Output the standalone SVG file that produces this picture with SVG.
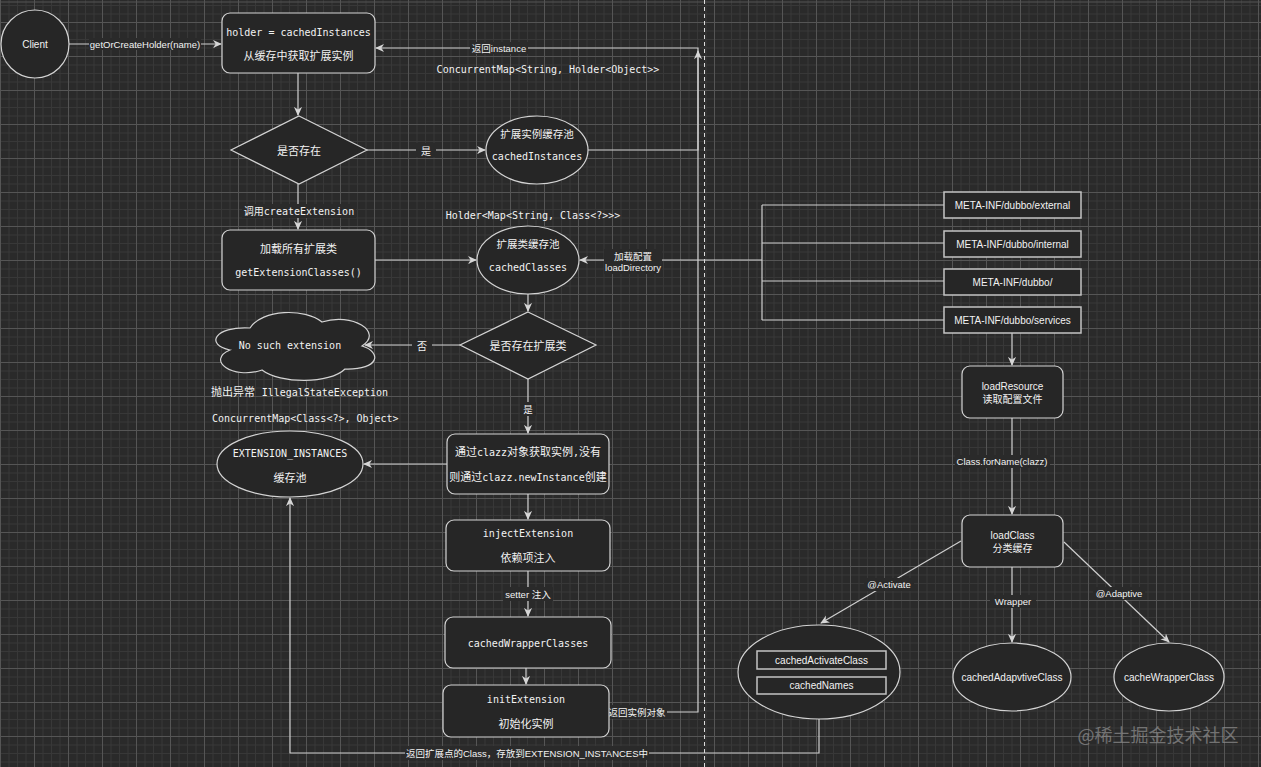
<svg xmlns="http://www.w3.org/2000/svg" width="1261" height="767" viewBox="0 0 1261 767">
<defs>
<pattern id="grid" width="34" height="34" patternUnits="userSpaceOnUse" x="0" y="22">
<rect width="34" height="34" fill="#2a2a2a"/>
<path d="M9 0V34M17.5 0V34M26 0V34M0 9H34M0 17.5H34M0 26H34" stroke="#383838" stroke-width="1"/>
<path d="M0.5 0V34M0 0.5H34" stroke="#555555" stroke-width="1"/>
</pattern>
<marker id="arr" viewBox="0 0 10 10" refX="9" refY="5" markerWidth="9" markerHeight="9" markerUnits="userSpaceOnUse" orient="auto">
<path d="M0,0.5 L10,5 L0,9.5 L3,5 Z" fill="#d6d6d6"/>
</marker>
<style>
.nd{fill:#262626;stroke:#d4d4d4;stroke-width:1.2}
.sq{fill:#262626;stroke:#c4c4c4;stroke-width:1.5}
.e{fill:none;stroke:#cfcfcf;stroke-width:1.2}
.ea{fill:none;stroke:#cfcfcf;stroke-width:1.2;marker-end:url(#arr)}
.bg{fill:#2a2a2a}
text{fill:#f2f2f2;dominant-baseline:central;text-anchor:middle}
.m{font-family:"DejaVu Sans Mono","Noto Sans CJK SC",monospace;font-size:10px}
.c{font-family:"Noto Sans CJK SC",sans-serif;font-size:11px}
.s{font-family:"Liberation Sans","Noto Sans CJK SC",sans-serif;font-size:10px}
.l{font-family:"Liberation Sans","Noto Sans CJK SC",sans-serif;font-size:9.5px}
.st{text-anchor:start}
</style>
</defs>
<rect width="1261" height="767" fill="url(#grid)"/>
<line x1="0" y1="2" x2="1261" y2="2" stroke="#555555"/>
<line x1="704.5" y1="0" x2="704.5" y2="767" stroke="#dcdcdc" stroke-width="1" stroke-dasharray="4 3"/>

<g id="connectors">
<line class="ea" x1="69" y1="44" x2="221" y2="44"/>
<line class="ea" x1="298" y1="73" x2="298" y2="115"/>
<line class="ea" x1="367" y1="150" x2="485" y2="150"/>
<path class="ea" d="M588,150 H698 V48 H376"/>
<path class="ea" d="M609,712 H698 V51"/>
<line class="ea" x1="298" y1="184" x2="298" y2="229"/>
<line class="ea" x1="375" y1="260" x2="476" y2="260"/>
<path class="e" d="M762,205 V320 M762,205 H944 M762,243 H944 M762,281 H944 M762,320 H944"/>
<line class="ea" x1="762" y1="260" x2="580" y2="260"/>
<line class="ea" x1="1012" y1="333" x2="1012" y2="365"/>
<line class="ea" x1="1012" y1="418" x2="1012" y2="514"/>
<line class="ea" x1="961" y1="541" x2="821" y2="623"/>
<line class="ea" x1="1012" y1="567" x2="1012" y2="642"/>
<line class="ea" x1="1064" y1="542" x2="1169" y2="642"/>
<path class="ea" d="M819,719 V753 H290 V498"/>
<line class="ea" x1="528" y1="294" x2="528" y2="311"/>
<line class="ea" x1="460" y1="345" x2="365" y2="345"/>
<line class="ea" x1="528" y1="379" x2="528" y2="433"/>
<line class="ea" x1="447" y1="464" x2="364" y2="464"/>
<line class="ea" x1="528" y1="494" x2="528" y2="519"/>
<line class="ea" x1="528" y1="571" x2="528" y2="616"/>
<line class="ea" x1="526" y1="668" x2="526" y2="684"/>
<g id="edge-labels">
<rect class="bg" x="89" y="38" width="112" height="12"/>
<text class="l" x="145" y="44">getOrCreateHolder(name)</text>
<rect class="bg" x="416" y="143" width="20" height="14"/>
<text class="c" x="426" y="150" style="font-size:10px">是</text>
<rect class="bg" x="470" y="42" width="58" height="12"/>
<text class="l" x="499" y="48">返回instance</text>
<rect class="bg" x="609" y="705" width="58" height="14"/>
<text class="l" x="637" y="712">返回实例对象</text>
<rect class="bg" x="242" y="204" width="114" height="14"/>
<text class="m" x="299" y="211"><tspan style="font-size:10px">调用</tspan>createExtension</text>
<rect class="bg" x="604" y="249" width="58" height="25"/>
<text class="l" x="633" y="256">加载配置</text>
<text class="l" x="633" y="267">loadDirectory</text>
<rect class="bg" x="955" y="455" width="95" height="13"/>
<text class="l" x="1002" y="461">Class.forName(clazz)</text>
<rect class="bg" x="864" y="578" width="50" height="13"/>
<text class="l" x="889" y="584">@Activate</text>
<rect class="bg" x="990" y="595" width="46" height="13"/>
<text class="l" x="1013" y="601">Wrapper</text>
<rect class="bg" x="1093" y="587" width="52" height="13"/>
<text class="l" x="1119" y="593">@Adaptive</text>
<rect class="bg" x="405" y="746" width="244" height="14"/>
<text class="l" x="527" y="753">返回扩展点的Class，存放到EXTENSION_INSTANCES中</text>
<rect class="bg" x="412" y="338" width="20" height="14"/>
<text class="c" x="422" y="345" style="font-size:10px">否</text>
<rect class="bg" x="520" y="402" width="16" height="14"/>
<text class="c" x="528" y="409" style="font-size:9.5px">是</text>
<rect class="bg" x="503" y="587" width="50" height="14"/>
<text class="l" x="528" y="594">setter 注入</text>
</g>
</g>

<g id="client">
<circle class="nd" cx="35" cy="44" r="34"/>
<text class="s" x="35" y="44">Client</text>
</g>
<g id="holder">
<rect class="nd" x="222" y="13" width="153" height="60" rx="8"/>
<text class="m" x="298.5" y="32">holder = cachedInstances</text>
<text class="c" x="298.5" y="55">从缓存中获取扩展实例</text>
</g>
<g id="exists">
<polygon class="nd" points="299,116 367,150 299,184 231,150"/>
<text class="c" x="299" y="150">是否存在</text>
</g>
<g id="cachedInstances">
<ellipse class="nd" cx="537" cy="150" rx="51" ry="34"/>
<text class="c" x="537" y="133" style="font-size:10.5px">扩展实例缓存池</text>
<text class="m" x="537" y="156">cachedInstances</text>
</g>
<g id="note-instances">
<text class="m" x="548" y="69">ConcurrentMap&lt;String, Holder&lt;Object&gt;&gt;</text>
</g>
<g id="loadAll">
<rect class="nd" x="222" y="230" width="153" height="60" rx="8"/>
<text class="c" x="298.5" y="248">加载所有扩展类</text>
<text class="m" x="298.5" y="272">getExtensionClasses()</text>
</g>
<g id="cachedClasses">
<ellipse class="nd" cx="528" cy="260" rx="51" ry="34"/>
<text class="c" x="528" y="243" style="font-size:10.5px">扩展类缓存池</text>
<text class="m" x="528" y="267">cachedClasses</text>
</g>
<g id="note-classes">
<text class="m" x="533" y="215">Holder&lt;Map&lt;String, Class&lt;?&gt;&gt;&gt;</text>
</g>
<g id="meta-external">
<rect class="sq" x="944" y="192" width="137" height="26"/>
<text class="s" x="1012.5" y="205">META-INF/dubbo/external</text>
</g>
<g id="meta-internal">
<rect class="sq" x="944" y="231" width="137" height="26"/>
<text class="s" x="1012.5" y="244">META-INF/dubbo/internal</text>
</g>
<g id="meta-dubbo">
<rect class="sq" x="944" y="269" width="137" height="26"/>
<text class="s" x="1012.5" y="282">META-INF/dubbo/</text>
</g>
<g id="meta-services">
<rect class="sq" x="944" y="307" width="137" height="26"/>
<text class="s" x="1012.5" y="320">META-INF/dubbo/services</text>
</g>
<g id="loadResource">
<rect class="nd" x="962" y="366" width="101" height="52" rx="8"/>
<text class="s" x="1012.5" y="386.5">loadResource</text>
<text class="s" x="1012.5" y="399.5">读取配置文件</text>
</g>
<g id="loadClass">
<rect class="nd" x="962" y="515" width="101" height="52" rx="8"/>
<text class="s" x="1012.5" y="535.5">loadClass</text>
<text class="s" x="1012.5" y="548.5">分类缓存</text>
</g>
<g id="cachedActivate">
<ellipse class="nd" cx="819" cy="672" rx="81" ry="47"/>
<rect class="sq" x="757" y="651" width="129" height="18"/>
<text class="s" x="821.5" y="660">cachedActivateClass</text>
<rect class="sq" x="757" y="677" width="129" height="17"/>
<text class="s" x="821.5" y="685.5">cachedNames</text>
</g>
<g id="cachedAdaptive">
<ellipse class="nd" cx="1012" cy="677" rx="59" ry="34"/>
<text class="s" x="1012" y="677">cachedAdapvtiveClass</text>
</g>
<g id="cacheWrapper">
<ellipse class="nd" cx="1169" cy="677" rx="55" ry="34"/>
<text class="s" x="1169" y="677">cacheWrapperClass</text>
</g>
<g id="hasExt">
<polygon class="nd" points="528,312 596,345 528,379 460,345"/>
<text class="c" x="528" y="345">是否存在扩展类</text>
</g>
<g id="noSuch">
<path class="nd" d="M250,328 C214,326 205,345 230,350 C206,360 232,380 262,370 C280,384 330,384 345,369 C380,370 382,352 362,346 C384,332 352,312 322,322 C305,308 262,309 250,328 Z"/>
<text class="m" x="290" y="345">No such extension</text>
</g>
<g id="note-exception">
<text class="m st" x="211" y="392"><tspan style="font-size:11px">抛出异常 </tspan>IllegalStateException</text>
<text class="m st" x="212" y="418">ConcurrentMap&lt;Class&lt;?&gt;, Object&gt;</text>
</g>
<g id="newInstance">
<rect class="nd" x="447" y="434" width="162" height="60" rx="8"/>
<text class="m" x="528" y="452"><tspan style="font-size:11px">通过</tspan>clazz<tspan style="font-size:11px">对象获取实例</tspan>,<tspan style="font-size:11px">没有</tspan></text>
<text class="m" x="528" y="477"><tspan style="font-size:11px">则通过</tspan>clazz.newInstance<tspan style="font-size:11px">创建</tspan></text>
</g>
<g id="extInstances">
<ellipse class="nd" cx="290" cy="464" rx="73" ry="33"/>
<text class="m" x="290" y="453">EXTENSION_INSTANCES</text>
<text class="c" x="290" y="477">缓存池</text>
</g>
<g id="inject">
<rect class="nd" x="446" y="520" width="164" height="51" rx="8"/>
<text class="m" x="528" y="533">injectExtension</text>
<text class="c" x="528" y="557">依赖项注入</text>
</g>
<g id="wrapperClasses">
<rect class="nd" x="445" y="617" width="166" height="51" rx="8"/>
<text class="m" x="528" y="643">cachedWrapperClasses</text>
</g>
<g id="initExtension">
<rect class="nd" x="443" y="685" width="166" height="52" rx="8"/>
<text class="m" x="526" y="699">initExtension</text>
<text class="c" x="526" y="723">初始化实例</text>
</g>
<text x="1158" y="734" style="font-family:'Noto Sans CJK SC',sans-serif;font-size:18px;fill:#8a8a8a;opacity:0.75">@稀土掘金技术社区</text>
</svg>
